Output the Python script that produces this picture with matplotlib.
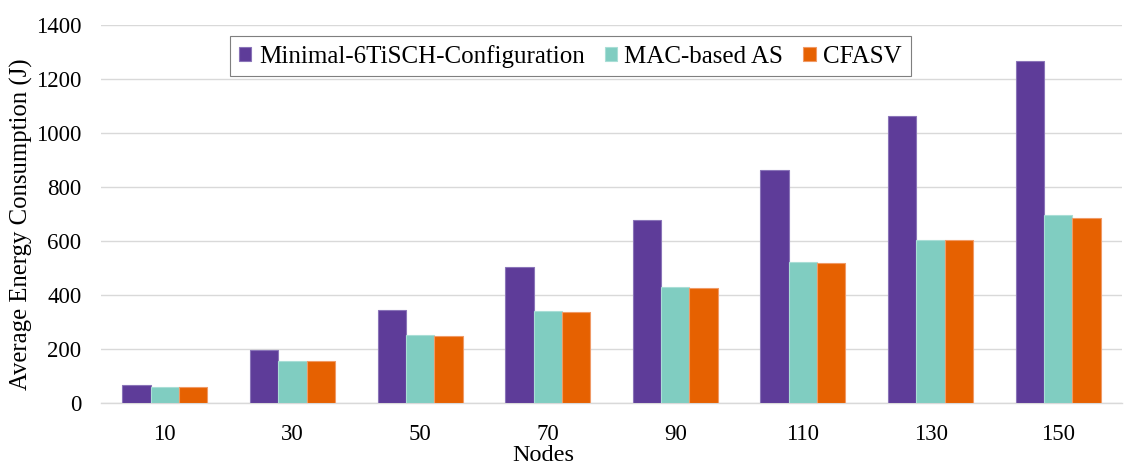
import matplotlib.pyplot as plt
import numpy as np

plt.rcParams['font.family'] = ['Liberation Serif', 'DejaVu Serif']

nodes = ['10', '30', '50', '70', '90', '110', '130', '150']
minimal = [66, 196, 345, 504, 680, 864, 1062, 1268]
mac_as = [62, 157, 252, 342, 430, 523, 605, 696]
cfasv = [59, 157, 249, 338, 427, 519, 605, 686]

names = ['Minimal-6TiSCH-Configuration', 'MAC-based AS', 'CFASV']
colors = ['#5E3C99', '#80CDC1', '#E66101']
edges = ['#8a74b8', '#a9ded6', '#f09a66']

fig = plt.figure(figsize=(11.25, 4.67), dpi=100)
ax = fig.add_axes([101 / 1125, 63.7 / 467, 1021 / 1125, 378.3 / 467])

x = np.arange(len(nodes))
w = 0.222
for k, vals in enumerate([minimal, mac_as, cfasv]):
    ax.bar(x + (k - 1) * w, vals, w, color=colors[k], edgecolor=edges[k],
           linewidth=0.8, label=names[k], zorder=3)

ax.set_xlim(-0.5, len(nodes) - 0.5)
ax.set_ylim(0, 1400)
ax.set_yticks(range(0, 1401, 200))
ax.set_xticks(x)
ax.set_xticklabels(nodes)
ax.tick_params(axis='both', length=0, labelsize=16.5)
ax.tick_params(axis='x', pad=15)
ax.tick_params(axis='y', pad=14)
ax.grid(axis='y', color='#d9d9d9', linewidth=1, zorder=0)
for s in ['top', 'right', 'left']:
    ax.spines[s].set_visible(False)
ax.spines['bottom'].set_color('#d9d9d9')
ax.spines['bottom'].set_linewidth(1)

ax.set_xlabel('Nodes', fontsize=17.5)
ax.xaxis.set_label_coords((543 - 101) / 1021, -42 / 378.3)
ax.set_ylabel('Average Energy Consumption (J)', fontsize=17.8)
ax.yaxis.set_label_coords(-68 / 1021, 0.474)

leg = ax.legend(loc='upper left', bbox_to_anchor=(129 / 1021, 0.971), ncol=3,
                fontsize=18, frameon=True, fancybox=False, edgecolor='#7f7f7f',
                handlelength=0.5, handleheight=0.5, handletextpad=0.3,
                columnspacing=0.8, borderpad=0.35, borderaxespad=0)
leg.get_frame().set_linewidth(0.8)
leg.get_frame().set_alpha(1)

fig.savefig('out.png', dpi=100)
